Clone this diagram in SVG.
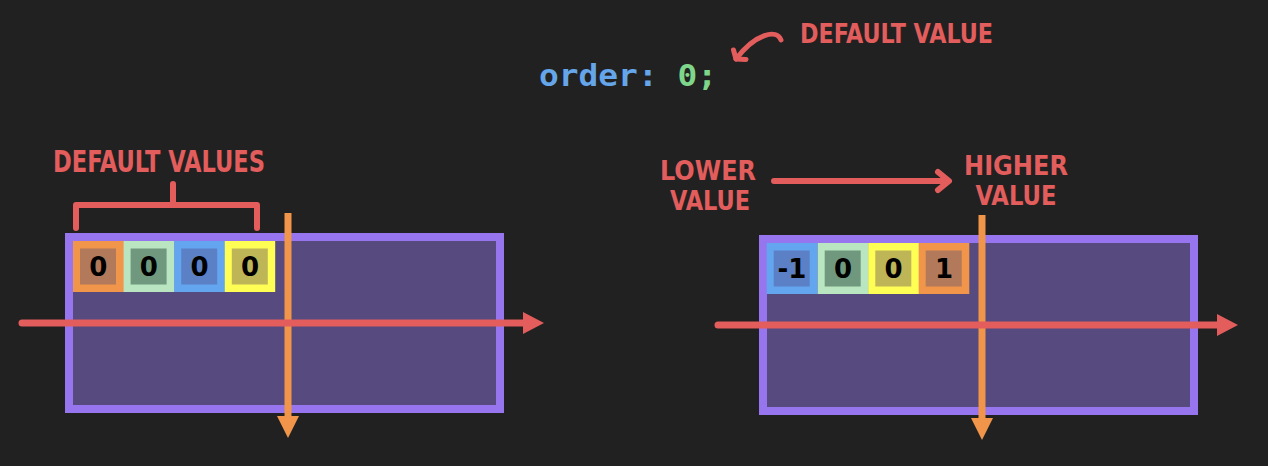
<svg xmlns="http://www.w3.org/2000/svg" width="1268" height="466" viewBox="0 0 1268 466">
<defs>
<style>
.hand{font-family:"DejaVu Sans Condensed","DejaVu Sans","Liberation Sans",sans-serif;font-weight:bold;fill:#e35d5d}
.code{font-family:"DejaVu Sans Mono","Liberation Mono",monospace;font-weight:bold;font-size:31px}
.num{font-family:"DejaVu Sans","Liberation Sans",sans-serif;font-weight:bold;font-size:26px;fill:#000;text-anchor:middle}
.cont{fill:#574a7f;stroke:#9775ee;stroke-width:8}
.red{stroke:#e35d5d;fill:none;stroke-linecap:round;stroke-linejoin:round}
.ax{stroke-width:7}
.or{stroke:#f0954a;stroke-width:7}
.o1{fill:#f0954a}.o2{fill:#b27a5a}
.g1{fill:#b9e6c0}.g2{fill:#6f987e}
.b1{fill:#63a5ef}.b2{fill:#5c80c6}
.y1{fill:#fefe55}.y2{fill:#bdb556}
</style>
</defs>
<rect width="1268" height="466" fill="#212121"/>

<g id="code">
<text class="code" x="539" y="86" textLength="178" lengthAdjust="spacingAndGlyphs"><tspan fill="#65a6ea">order:</tspan><tspan fill="#7fd68b"> 0;</tspan></text>
</g>
<g id="default-value-note">
<text class="hand" x="800" y="43" font-size="27" textLength="193" lengthAdjust="spacingAndGlyphs">DEFAULT VALUE</text>
</g>

<g id="left-container">
<rect class="cont" x="69" y="237" width="431" height="172"/>
</g>
<g id="left-items">
<g id="l1"><rect class="o1" x="73" y="241" width="51" height="51"/><rect class="o2" x="80" y="248.5" width="36" height="36"/><text class="num" x="98.3" y="276">0</text></g>
<g id="l2"><rect class="g1" x="123.6" y="241" width="51" height="51"/><rect class="g2" x="130.6" y="248.5" width="36" height="36"/><text class="num" x="148.9" y="276">0</text></g>
<g id="l3"><rect class="b1" x="174.2" y="241" width="51" height="51"/><rect class="b2" x="181.2" y="248.5" width="36" height="36"/><text class="num" x="199.5" y="276">0</text></g>
<g id="l4"><rect class="y1" x="224.8" y="241" width="50.4" height="51"/><rect class="y2" x="231.8" y="248.5" width="36" height="36"/><text class="num" x="250" y="276">0</text></g>
</g>
<g id="default-values-note">
<text class="hand" x="53" y="172" font-size="30" textLength="212" lengthAdjust="spacingAndGlyphs">DEFAULT VALUES</text>
</g>

<g id="right-container">
<rect class="cont" x="763" y="239" width="431" height="172"/>
</g>
<g id="right-items">
<g id="r1"><rect class="b1" x="766.7" y="243" width="51" height="51"/><rect class="b2" x="773.7" y="250.5" width="36" height="36"/><text class="num" x="792" y="278">-1</text></g>
<g id="r2"><rect class="g1" x="817.7" y="243" width="51" height="51"/><rect class="g2" x="824.7" y="250.5" width="36" height="36"/><text class="num" x="843" y="278">0</text></g>
<g id="r3"><rect class="y1" x="868.3" y="243" width="51" height="51"/><rect class="y2" x="875.3" y="250.5" width="36" height="36"/><text class="num" x="893.5" y="278">0</text></g>
<g id="r4"><rect class="o1" x="918.7" y="243" width="50.6" height="51"/><rect class="o2" x="925.7" y="250.5" width="36" height="36"/><text class="num" x="944" y="278">1</text></g>
</g>
<g id="lower-value">
<text class="hand" x="708" y="180" font-size="26" text-anchor="middle" textLength="96" lengthAdjust="spacingAndGlyphs">LOWER</text>
<text class="hand" x="710" y="210" font-size="26" text-anchor="middle" textLength="80" lengthAdjust="spacingAndGlyphs">VALUE</text>
</g>
<g id="higher-value">
<text class="hand" x="1016" y="175" font-size="26" text-anchor="middle" textLength="104" lengthAdjust="spacingAndGlyphs">HIGHER</text>
<text class="hand" x="1016" y="205" font-size="26" text-anchor="middle" textLength="81" lengthAdjust="spacingAndGlyphs">VALUE</text>
</g>

<g id="connectors">
<path class="red" stroke-width="5" d="M781,40 C777,29 756,33 736,59"/>
<path class="red" stroke-width="5" d="M733.5,50 L736,59 L746,59.5"/>
<path class="red" stroke-width="6" d="M173,184 V205 M76,228 V205 H257 V228"/>
<path class="red" stroke-width="6" d="M774,181 H948 M938,172 L949,181 L938,190"/>
<line class="or" x1="288" y1="213" x2="288" y2="418"/>
<polygon fill="#f0954a" points="277,416 299,416 288,438"/>
<line class="red ax" stroke-linecap="butt" x1="22" y1="323" x2="525" y2="323"/>
<polygon fill="#e35d5d" points="523,312 544,323 523,334"/>
<line class="or" x1="982" y1="215" x2="982" y2="420"/>
<polygon fill="#f0954a" points="971,418 993,418 982,440"/>
<line class="red ax" stroke-linecap="butt" x1="718" y1="325" x2="1219" y2="325"/>
<polygon fill="#e35d5d" points="1217,314 1238,325 1217,336"/>
</g>
</svg>
